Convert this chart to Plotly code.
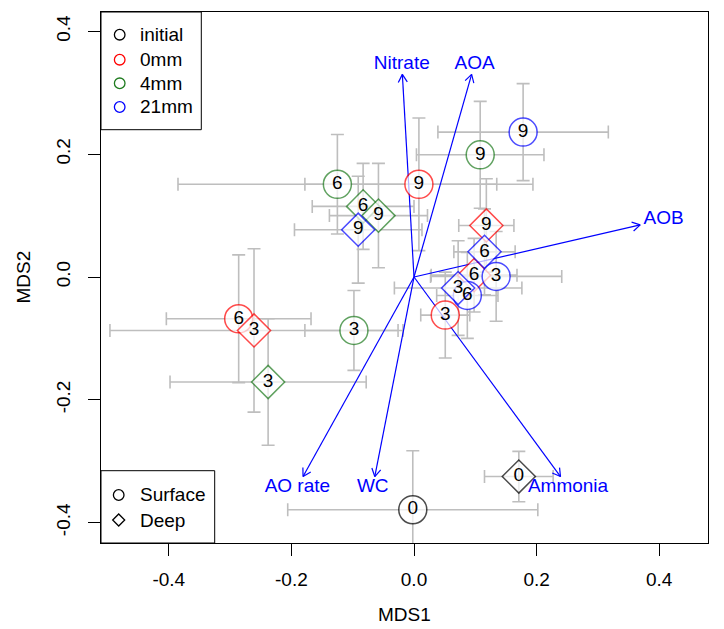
import math
import plotly.graph_objects as go

# ---- data ----
labels = ["0", "0",
          "3", "6", "9", "3", "6", "9",
          "3", "6", "9", "3", "6", "9",
          "3", "6", "9", "3", "6", "9"]
treatment = ["initial", "initial",
             "0mm", "0mm", "0mm", "0mm", "0mm", "0mm",
             "4mm", "4mm", "4mm", "4mm", "4mm", "4mm",
             "21mm", "21mm", "21mm", "21mm", "21mm", "21mm"]
depth = ["Surface", "Deep",
         "Surface", "Surface", "Surface", "Deep", "Deep", "Deep",
         "Surface", "Surface", "Surface", "Deep", "Deep", "Deep",
         "Surface", "Surface", "Surface", "Deep", "Deep", "Deep"]
mds1 = [-0.002, 0.171,
        0.051, -0.286, 0.008, -0.261, 0.098, 0.118,
        -0.098, -0.125, 0.108, -0.238, -0.083, -0.058,
        0.134, 0.087, 0.178, 0.072, 0.115, -0.091]
mds2 = [-0.379, -0.325,
        -0.062, -0.068, 0.151, -0.087, 0.003, 0.084,
        -0.087, 0.151, 0.199, -0.171, 0.115, 0.100,
        0.001, -0.030, 0.236, -0.018, 0.041, 0.077]
sd1 = [0.204, 0.056,
       0.040, 0.118, 0.186, 0.235, 0.070, 0.045,
       0.080, 0.260, 0.104, 0.160, 0.083, 0.080,
       0.107, 0.050, 0.139, 0.104, 0.050, 0.104]
sd2 = [0.096, 0.041,
       0.070, 0.104, 0.108, 0.133, 0.060, 0.076,
       0.065, 0.081, 0.087, 0.103, 0.070, 0.085,
       0.073, 0.070, 0.079, 0.077, 0.070, 0.087]

vec_names = ["Nitrate", "AOA", "AOB", "AO rate", "WC", "Ammonia"]
vec_x = [-0.019, 0.094, 0.369, -0.181, -0.064, 0.239]
vec_y = [0.330, 0.330, 0.085, -0.325, -0.325, -0.325]

treat_levels = ["initial", "0mm", "4mm", "21mm"]
depth_levels = ["Surface", "Deep"]
x_ticks = [-0.4, -0.2, 0.0, 0.2, 0.4]
y_ticks = [-0.4, -0.2, 0.0, 0.2, 0.4]

# ---- styling / layout constants ----
colors = {"initial": "#000000", "0mm": "#FF0000", "4mm": "#1E7B1E", "21mm": "#0000FF"}
symbols = {"Surface": "circle", "Deep": "diamond"}
sizes = {"Surface": 28, "Deep": 25.5}
FONT = "Liberation Sans, Arial, sans-serif"
FS = 19
ARROW_COL = "#0000FF"

W, H = 724, 629
PL, PR, PT, PB = 93, 700, 4, 535          # plot box in pixels
XR = [-0.5106, 0.4796]
YR = [-0.4332, 0.4316]
KX = (PR - PL) / (XR[1] - XR[0])          # px per data unit
KY = (PB - PT) / (YR[1] - YR[0])

def pxx(p):
    return (p - PL) / (PR - PL)

def pxy(p):
    return (PB - p) / (PB - PT)

# Arial/Liberation Sans advance widths (em) for label box sizes
CHAR_W = {"N": .722, "i": .222, "t": .278, "r": .333, "a": .556, "e": .556,
          "A": .667, "O": .778, "B": .667, " ": .278, "o": .556, "W": .944,
          "C": .722, "m": .833, "n": .556}

def text_w(s):
    return sum(CHAR_W.get(c, .556) for c in s) * FS

fig = go.Figure()

# error bars (under everything)
fig.add_trace(go.Scatter(
    x=mds1, y=mds2, mode="markers",
    marker=dict(size=0.1, opacity=0),
    error_x=dict(type="data", array=sd1, color="#BEBEBE", thickness=1.6, width=6.5),
    error_y=dict(type="data", array=sd2, color="#BEBEBE", thickness=1.6, width=6.5),
    showlegend=False, hoverinfo="skip"))

# fitted vectors: shaft + open arrow head (computed from the tips)
HEAD_LEN, HEAD_ANG = 9.0, math.radians(30)
ax_, ay_ = [], []
for vx, vy in zip(vec_x, vec_y):
    dx, dy = vx * KX, vy * KY
    ang = math.atan2(dy, dx)
    ax_ += [0, vx, None]
    ay_ += [0, vy, None]
    for s in (1, -1):
        a = ang + math.pi + s * HEAD_ANG
        ax_ += [vx + HEAD_LEN * math.cos(a) / KX, vx, None]
        ay_ += [vy + HEAD_LEN * math.sin(a) / KY, vy, None]
fig.add_trace(go.Scatter(x=ax_, y=ay_, mode="lines",
                         line=dict(color=ARROW_COL, width=1.2),
                         showlegend=False, hoverinfo="skip"))

# markers
fig.add_trace(go.Scatter(
    x=mds1, y=mds2, mode="markers",
    marker=dict(symbol=[symbols[d] for d in depth],
                size=[sizes[d] for d in depth],
                color="white",
                line=dict(color=[colors[t] for t in treatment], width=1.5)),
    showlegend=False, cliponaxis=False))

# point labels
fig.add_trace(go.Scatter(
    x=mds1, y=mds2, mode="text", text=labels, textposition="middle center",
    textfont=dict(family=FONT, size=FS, color="black"),
    showlegend=False, cliponaxis=False))

# vector labels placed beyond arrow tips (vegan ordiArrowTextXY logic)
hM = 0.716 * FS
lx, ly = [], []
for name, vx, vy in zip(vec_names, vec_x, vec_y):
    w = text_w(name)
    offx = math.copysign(w / 2 + hM / 4, vx)
    offy = math.copysign(0.75 * hM, vy)
    b = (vy * KY) / (vx * KX)
    move = offy / b
    if abs(move) <= abs(offx):
        offx = move
    else:
        offy = b * offx
    lx.append(vx + offx / KX)
    ly.append(vy + offy / KY)
fig.add_trace(go.Scatter(
    x=lx, y=ly, mode="text", text=vec_names, textposition="middle center",
    textfont=dict(family=FONT, size=FS, color=ARROW_COL),
    showlegend=False, cliponaxis=False))

# ---- legends drawn as boxes (R style) ----
shapes = []
annots = []
leg1_rows = [26.7, 51.7, 75.3, 99.0]
shapes.append(dict(type="rect", xref="paper", yref="paper", x0=0, x1=pxx(193.3),
                   y0=pxy(121.7), y1=1, line=dict(color="black", width=1),
                   fillcolor="white", layer="above"))
for t, ry in zip(treat_levels, leg1_rows):
    shapes.append(dict(type="circle", xref="paper", yref="paper",
                       xsizemode="pixel", ysizemode="pixel",
                       xanchor=pxx(111.7), yanchor=pxy(ry),
                       x0=-5.3, x1=5.3, y0=-5.3, y1=5.3,
                       line=dict(color=colors[t], width=1.3), layer="above"))
    annots.append(dict(text=t, xref="paper", yref="paper", x=pxx(129.5), y=pxy(ry),
                       xanchor="left", yanchor="middle", showarrow=False,
                       font=dict(family=FONT, size=FS, color="black")))

leg2_rows = [487.0, 512.0]
shapes.append(dict(type="rect", xref="paper", yref="paper", x0=0, x1=pxx(206.7),
                   y0=0, y1=pxy(462.7), line=dict(color="black", width=1),
                   fillcolor="white", layer="above"))
for d, ry in zip(depth_levels, leg2_rows):
    if symbols[d] == "circle":
        shapes.append(dict(type="circle", xref="paper", yref="paper",
                           xsizemode="pixel", ysizemode="pixel",
                           xanchor=pxx(110.7), yanchor=pxy(ry),
                           x0=-5.3, x1=5.3, y0=-5.3, y1=5.3,
                           line=dict(color="black", width=1.3), layer="above"))
    else:
        shapes.append(dict(type="path", xref="paper", yref="paper",
                           xsizemode="pixel", ysizemode="pixel",
                           xanchor=pxx(110.7), yanchor=pxy(ry),
                           path="M -6 0 L 0 6 L 6 0 L 0 -6 Z",
                           line=dict(color="black", width=1.3), layer="above"))
    annots.append(dict(text=d, xref="paper", yref="paper", x=pxx(129.5), y=pxy(ry),
                       xanchor="left", yanchor="middle", showarrow=False,
                       font=dict(family=FONT, size=FS, color="black")))

# axis titles
annots.append(dict(text="MDS1", xref="paper", yref="paper", x=0.5, y=pxy(606),
                   showarrow=False, font=dict(family=FONT, size=FS, color="black"),
                   xanchor="center", yanchor="middle"))
annots.append(dict(text="MDS2", xref="paper", yref="paper", x=pxx(15), y=0.5,
                   showarrow=False, textangle=-90,
                   font=dict(family=FONT, size=FS, color="black"),
                   xanchor="center", yanchor="middle"))

axis_common = dict(showgrid=False, zeroline=False, showline=True, mirror=True,
                   linecolor="black", linewidth=1, ticks="outside", ticklen=12,
                   tickwidth=1, tickcolor="black",
                   tickfont=dict(family=FONT, size=FS, color="black"))
fig.update_xaxes(range=XR, tickvals=x_ticks,
                 ticktext=[f"{v:.1f}" for v in x_ticks], ticklabelstandoff=7,
                 **axis_common)
fig.update_yaxes(range=YR, tickvals=y_ticks,
                 ticktext=[f"{v:.1f}" for v in y_ticks], tickangle=-90,
                 ticklabelstandoff=10, **axis_common)

fig.update_layout(width=W, height=H, autosize=False,
                  margin=dict(l=PL, r=W - PR, t=PT, b=H - PB),
                  plot_bgcolor="white", paper_bgcolor="white",
                  font=dict(family=FONT, size=FS, color="black"),
                  showlegend=False, shapes=shapes, annotations=annots)

fig.write_html("out.html")
